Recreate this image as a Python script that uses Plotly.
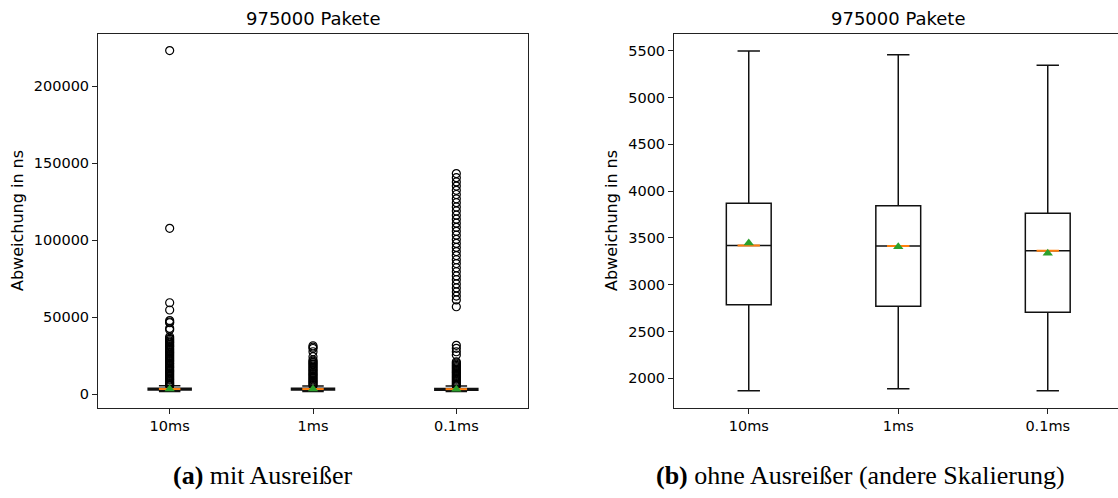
import plotly.graph_objects as go

# ---------------- data ----------------
categories = ["10ms", "1ms", "0.1ms"]
positions = [1, 2, 3]

q1_vals = [2785, 2769, 2705]
median_vals = [3420, 3413, 3363]
q3_vals = [3870, 3844, 3763]
lower_whisker = [1868, 1889, 1868]
upper_whisker = [5497, 5457, 5344]
mean_vals = [3445, 3405, 3335]

outliers_10ms = [223000, 107700, 59400, 54700, 47800, 46900, 46400, 42800, 41800,
                 37400, 36300, 35600, 34700, 33900, 33200, 32300, 31500, 30800, 29900,
                 29100, 28300, 27500, 26800, 25900, 25100, 24400, 23500, 22700, 21900,
                 21200, 20300, 19600, 18700, 17900, 17200, 16300, 15500, 14800, 13900,
                 13100, 12300, 11600, 10700, 9900, 9200, 8300, 7500, 6800, 6000, 5600]
outliers_1ms = [31500, 30600, 29700, 27600, 24400, 22300, 21500, 20700, 19800, 19100,
                18200, 17500, 16600, 15800, 15100, 14200, 13400, 12700, 11800, 11000,
                10300, 9400, 8600, 7900, 7100, 6300, 5600]
outliers_01ms = [143200, 140500, 137800, 135100, 132300, 129600, 126800, 124300, 121500,
                 118900, 116200, 113600, 111000, 108300, 105700, 103200, 100500, 97900,
                 95300, 92600, 90000, 87300, 84800, 82100, 79500, 76800, 74300, 71600,
                 69000, 66400, 63700, 61200, 56800,
                 31800, 29800, 27600, 25500, 21100, 20300, 19500, 18700, 17900, 17100,
                 16300, 15500, 14700, 13900, 13100, 12300, 11500, 10700, 9900, 9100,
                 8300, 7500, 6700, 5900, 5500]
outlier_sets = [outliers_10ms, outliers_1ms, outliers_01ms]

left_yticks = [0, 50000, 100000, 150000, 200000]
right_yticks = [2000, 2500, 3000, 3500, 4000, 4500, 5000, 5500]

title_text = "975000 Pakete"
ylabel_text = "Abweichung in ns"
caption_a = "<b>(a)</b> mit Ausreißer"
caption_b = "<b>(b)</b> ohne Ausreißer (andere Skalierung)"

# ---------------- layout constants ----------------
W, H = 1118, 498
box_width = 0.3
ORANGE = "#ff7f0e"
GREEN = "#2ca02c"
FONT = "DejaVu Sans"

fig = go.Figure()


def add_panel(xa, ya, with_outliers):
    fig.add_trace(go.Box(
        x=positions, q1=q1_vals, median=median_vals, q3=q3_vals,
        lowerfence=lower_whisker, upperfence=upper_whisker,
        width=box_width, whiskerwidth=0.5, boxpoints=False,
        fillcolor="rgba(0,0,0,0)", line=dict(color="#111111", width=1.5),
        xaxis=xa, yaxis=ya, showlegend=False, hoverinfo="skip"))
    if with_outliers:
        ox, oy = [], []
        for p, vals in zip(positions, outlier_sets):
            ox += [p] * len(vals)
            oy += vals
        fig.add_trace(go.Scatter(
            x=ox, y=oy, mode="markers", xaxis=xa, yaxis=ya, showlegend=False,
            marker=dict(symbol="circle-open", size=8, color="black",
                        line=dict(width=1.2, color="black"))))
    mx, my = [], []
    for p, m in zip(positions, median_vals):
        mx += [p - box_width / 4, p + box_width / 4, None]
        my += [m, m, None]
    fig.add_trace(go.Scatter(x=mx, y=my, mode="lines", xaxis=xa, yaxis=ya,
                             showlegend=False, line=dict(color=ORANGE, width=2)))
    fig.add_trace(go.Scatter(x=positions, y=mean_vals, mode="markers", xaxis=xa, yaxis=ya,
                             showlegend=False,
                             marker=dict(symbol="triangle-up", size=9, color=GREEN)))


add_panel("x", "y", True)
add_panel("x2", "y2", False)

ydom = [(H - 408) / H, (H - 33.5) / H]
axis_common = dict(showgrid=False, zeroline=False, showline=True, linecolor="#222222",
                   linewidth=1, ticks="outside", ticklen=5, tickcolor="#222222",
                   tickfont=dict(family=FONT, size=14.5, color="black"), automargin=False)

fig.update_layout(
    width=W, height=H, margin=dict(l=0, r=0, t=0, b=0),
    paper_bgcolor="white", plot_bgcolor="white",
    xaxis=dict(domain=[98 / W, 528 / W], range=[0.5, 3.5], tickvals=positions,
               ticktext=categories, mirror=True, anchor="y", **axis_common),
    yaxis=dict(domain=ydom, range=[-8888, 234060], tickvals=left_yticks,
               tickformat="d", mirror=True, anchor="x", **axis_common),
    xaxis2=dict(domain=[674 / W, 1.0], range=[0.5, 0.5 + (W - 674) / 149.5],
                tickvals=positions, ticktext=categories, mirror=True, anchor="y2",
                **axis_common),
    yaxis2=dict(domain=ydom, range=[1682.7, 5683.8], tickvals=right_yticks,
                tickformat="d", mirror=False, anchor="x2", **axis_common),
)

annotations = [
    dict(text=title_text, x=313 / W, y=(H - 18.5) / H, font=dict(family=FONT, size=18, color="black")),
    dict(text=title_text, x=898.5 / W, y=(H - 18.5) / H, font=dict(family=FONT, size=18, color="black")),
    dict(text=ylabel_text, x=18 / W, y=(H - 221) / H, textangle=-90,
         font=dict(family=FONT, size=16, color="black")),
    dict(text=ylabel_text, x=612 / W, y=(H - 221) / H, textangle=-90,
         font=dict(family=FONT, size=16, color="black")),
    dict(text=caption_a, x=262.5 / W, y=(H - 475) / H,
         font=dict(family="Liberation Serif", size=26, color="black")),
    dict(text=caption_b, x=860 / W, y=(H - 475) / H,
         font=dict(family="Liberation Serif", size=26, color="black")),
]
for a in annotations:
    a.update(xref="paper", yref="paper", showarrow=False, xanchor="center", yanchor="middle")
fig.update_layout(annotations=annotations)

fig.write_html("out.html", config={"displayModeBar": False, "staticPlot": True},
               post_script="document.body.style.margin='0';document.body.style.overflow='hidden';")
